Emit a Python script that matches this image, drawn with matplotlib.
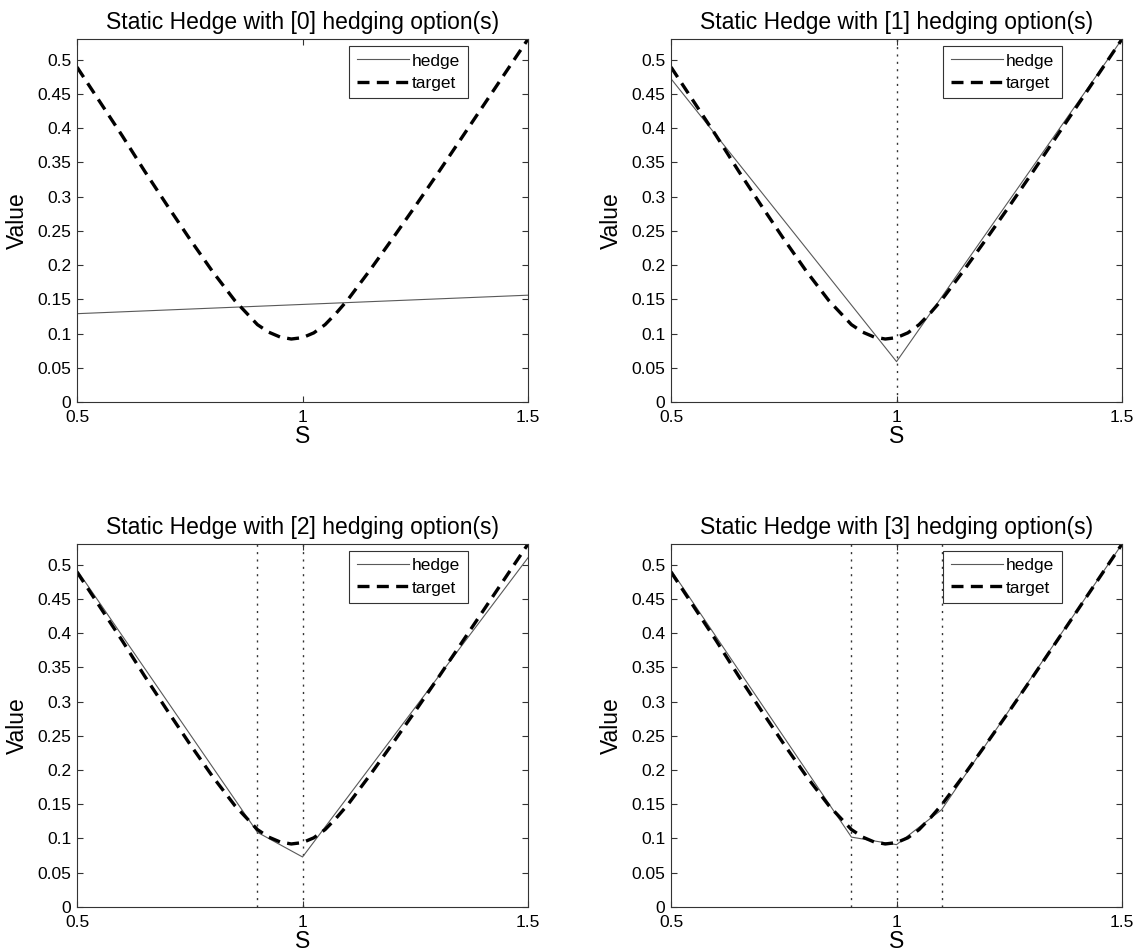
import numpy as np
import matplotlib
matplotlib.use('Agg')
import matplotlib.pyplot as plt
from matplotlib.ticker import FormatStrFormatter, MultipleLocator

plt.rcParams['font.family'] = ['Liberation Sans', 'DejaVu Sans']

# target (straddle) value
s_target = [0.5, 0.55, 0.6, 0.65, 0.7, 0.75, 0.8, 0.85, 0.9, 0.925, 0.95, 0.975,
            1.0, 1.025, 1.05, 1.075, 1.1, 1.15, 1.2, 1.25, 1.3, 1.35, 1.4, 1.45, 1.5]
v_target = [0.489, 0.439, 0.389, 0.337, 0.287, 0.238, 0.191, 0.148, 0.113, 0.102, 0.095, 0.092,
            0.094, 0.101, 0.113, 0.130, 0.149, 0.193, 0.239, 0.286, 0.334, 0.383, 0.432, 0.481, 0.53]

# piecewise linear hedges for 0..3 hedging options
n_options = [0, 1, 2, 3]
hedge_s = [[0.5, 1.5],
           [0.5, 1.0, 1.5],
           [0.5, 0.9, 1.0, 1.5],
           [0.5, 0.9, 1.0, 1.1, 1.5]]
hedge_v = [[0.129, 0.156],
           [0.472, 0.059, 0.530],
           [0.492, 0.109, 0.073, 0.510],
           [0.492, 0.102, 0.091, 0.142, 0.530]]
strikes = [[], [1.0], [0.9, 1.0], [0.9, 1.0, 1.1]]

fig = plt.figure(figsize=(11.41, 9.52), dpi=100)
positions = [[0.0675, 0.5777, 0.3953, 0.3813],
             [0.5881, 0.5777, 0.3953, 0.3813],
             [0.0675, 0.0473, 0.3953, 0.3813],
             [0.5881, 0.0473, 0.3953, 0.3813]]

for i in range(4):
    ax = fig.add_axes(positions[i])
    for k in strikes[i]:
        ax.axvline(k, color='0.2', lw=1.0, ls=(0, (1.5, 3.8)))
    ax.plot(hedge_s[i], hedge_v[i], color='0.35', lw=0.8, label='hedge')
    ax.plot(s_target, v_target, color='black', lw=2.4, dashes=(3.6, 2.2), label='target')

    ax.set_xlim(0.5, 1.5)
    ax.set_ylim(0, 0.53)
    ax.xaxis.set_major_locator(MultipleLocator(0.5))
    ax.yaxis.set_major_locator(MultipleLocator(0.05))
    ax.xaxis.set_major_formatter(FormatStrFormatter('%g'))
    ax.yaxis.set_major_formatter(FormatStrFormatter('%g'))
    ax.tick_params(direction='in', length=4, width=0.8, color='0.2', labelsize=12.5,
                   top=True, right=True)
    ax.tick_params(axis='x', pad=6)
    ax.tick_params(axis='y', pad=4)
    for sp in ax.spines.values():
        sp.set_color('0.2')
        sp.set_linewidth(0.8)

    ax.set_title('Static Hedge with [%d] hedging option(s)' % n_options[i], fontsize=16.5, pad=7)
    ax.set_xlabel('S', fontsize=16.5, labelpad=0)
    ax.set_ylabel('Value', fontsize=16.5, labelpad=6)

    leg = ax.legend(loc='upper right', bbox_to_anchor=(0.866, 0.982), borderaxespad=0,
                    fontsize=12.5, handlelength=3.0, handletextpad=0.15, labelspacing=0.4,
                    borderpad=0.45, fancybox=False, framealpha=1)
    leg.get_frame().set_edgecolor('0.2')
    leg.get_frame().set_linewidth(0.8)

plt.savefig('out.png', dpi=100)
